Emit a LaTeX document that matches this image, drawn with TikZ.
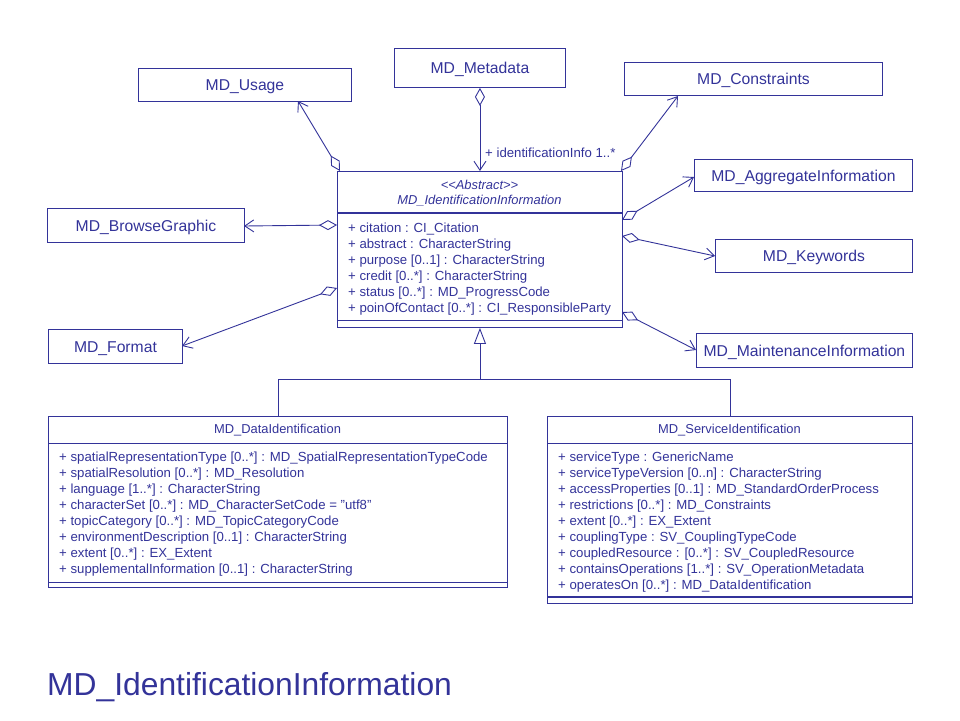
\documentclass[tikz,border=0pt]{standalone}
\usepackage{fontspec}
\setmainfont{Liberation Sans}
\usetikzlibrary{arrows.meta}
\definecolor{uml}{RGB}{51,51,153}
\tikzset{
  x=1pt, y=-1pt,
  box/.style={draw=uml, line width=0.9pt, inner sep=0pt, anchor=north west, text=uml,
    text height=11.2pt, text depth=0pt, font=\fontsize{15.7}{18}\selectfont},
  attr/.style={anchor=base west, inner sep=0pt, text=uml, font=\fontsize{13.2}{16}\selectfont},
  ctitle/.style={anchor=base, inner sep=0pt, text=uml, font=\fontsize{12.9}{16}\selectfont},
  edge/.style={draw=uml, line width=0.9pt},
  agg/.style={edge, {Diamond[open, length=18pt, width=10pt, line width=0.9pt]}-{Straight Barb[length=9pt, width=12pt, line width=0.9pt]}},
  gen/.style={edge, -{Triangle[open, length=16pt, width=12pt, line width=0.9pt]}},
}
\begin{document}
\begin{tikzpicture}
\useasboundingbox (0,0) rectangle (960,720);

% outer classes
\node[box, minimum width=213pt, minimum height=33pt] (usage) at (138,68) {MD\_Usage};
\node[box, minimum width=171pt, minimum height=39pt] (meta) at (394,48) {MD\_Metadata};
\node[box, minimum width=258pt, minimum height=33pt] (cons) at (624,62) {MD\_Constraints};
\node[box, minimum width=218pt, minimum height=32pt] (aggr) at (694,159) {MD\_AggregateInformation};
\node[box, minimum width=197pt, minimum height=33pt] (keyw) at (715,239) {MD\_Keywords};
\node[box, minimum width=216pt, minimum height=34pt] (maint) at (696,333) {MD\_MaintenanceInformation};
\node[box, minimum width=197pt, minimum height=34pt] (brow) at (47,208) {MD\_BrowseGraphic};
\node[box, minimum width=134pt, minimum height=34pt] (form) at (48,329) {MD\_Format};

% main abstract class
\node[box, minimum width=285pt, minimum height=156pt] (main) at (337,171) {};
\draw[uml, line width=2pt] (main.north west |- 0,213) -- (main.north east |- 0,213);
\draw[uml, line width=0.9pt] (main.north west |- 0,320) -- (main.north east |- 0,320);
\node[ctitle, font=\fontsize{12.9}{16}\itshape] (mainst) at (479.5,189.5) {<{}<Abstract>{}>};
\node[ctitle, font=\fontsize{12.9}{16}\itshape] (mainname) at (479.5,204.5) {MD\_IdentificationInformation};
\foreach \t [count=\i] in {{+ citation : CI\_Citation},
  {+ abstract : CharacterString},
  {+ purpose [0..1] : CharacterString},
  {+ credit [0..*] : CharacterString},
  {+ status [0..*] : MD\_ProgressCode},
  {+ poinOfContact [0..*] : CI\_ResponsibleParty}}
  \node[attr] (ma\i) at (348, 216+16*\i) {\t};

% MD_DataIdentification
\node[box, minimum width=459pt, minimum height=171pt] (dataid) at (48,416) {};
\draw[uml, line width=0.9pt] (dataid.north west |- 0,443) -- (dataid.north east |- 0,443);
\draw[uml, line width=0.9pt] (dataid.north west |- 0,582) -- (dataid.north east |- 0,582);
\node[ctitle] (dtitle) at (277.5,433.5) {MD\_DataIdentification};
\foreach \t [count=\i] in {{+ spatialRepresentationType [0..*] : MD\_SpatialRepresentationTypeCode},
  {+ spatialResolution [0..*] : MD\_Resolution},
  {+ language [1..*] : CharacterString},
  {+ characterSet [0..*] : MD\_CharacterSetCode = "utf8"},
  {+ topicCategory [0..*] : MD\_TopicCategoryCode},
  {+ environmentDescription [0..1] : CharacterString},
  {+ extent [0..*] : EX\_Extent},
  {+ supplementalInformation [0..1] : CharacterString}}
  \node[attr] (da\i) at (59, 445+16*\i) {\t};

% MD_ServiceIdentification
\node[box, minimum width=365pt, minimum height=187pt] (svc) at (547,416) {};
\draw[uml, line width=0.9pt] (svc.north west |- 0,443) -- (svc.north east |- 0,443);
\draw[uml, line width=2.2pt] (svc.north west |- 0,597) -- (svc.north east |- 0,597);
\node[ctitle] (stitle) at (729.5,433.5) {MD\_ServiceIdentification};
\foreach \t [count=\i] in {{+ serviceType : GenericName},
  {+ serviceTypeVersion [0..n] : CharacterString},
  {+ accessProperties [0..1] : MD\_StandardOrderProcess},
  {+ restrictions [0..*] : MD\_Constraints},
  {+ extent [0..*] : EX\_Extent},
  {+ couplingType : SV\_CouplingTypeCode},
  {+ coupledResource : [0..*] : SV\_CoupledResource},
  {+ containsOperations [1..*] : SV\_OperationMetadata},
  {+ operatesOn [0..*] : MD\_DataIdentification}}
  \node[attr] (sa\i) at (558, 445+16*\i) {\t};

% generalization
\coordinate (hub) at (main.south |- 0,379);
\draw[edge] (dataid.north) |- (hub);
\draw[edge] (svc.north) |- (hub);
\draw[gen] (hub) -- (main.south);

% aggregations
\coordinate (mtop) at (main.north -| meta.south);
\draw[agg] (meta.south) -- (mtop);
\node[attr] (idinfo) at (485,157.5) {+ identificationInfo 1..*};

\coordinate (uS) at (340,171);
\coordinate (uE) at (298,101);
\draw[agg] (uS) -- (uE);

\coordinate (bS) at (337,225);
\coordinate (bE) at (244,226);
\draw[agg] (bS) -- (bE);

\coordinate (fS) at (337,288);
\coordinate (fE) at (182,346);
\draw[agg] (fS) -- (fE);

\coordinate (cS) at (621,171);
\coordinate (cE) at (678,96);
\draw[agg] (cS) -- (cE);

\coordinate (aS) at (622,220);
\coordinate (aE) at (694,177);
\draw[agg] (aS) -- (aE);

\coordinate (kS) at (622,236);
\coordinate (kE) at (715,256);
\draw[agg] (kS) -- (kE);

\coordinate (nS) at (622,312);
\coordinate (nE) at (696,350);
\draw[agg] (nS) -- (nE);

% bottom title
\node[anchor=base west, inner sep=0pt, text=uml, font=\fontsize{31.8}{36}\selectfont] (bigtitle) at (47,695) {MD\_IdentificationInformation};
\end{tikzpicture}
\end{document}
